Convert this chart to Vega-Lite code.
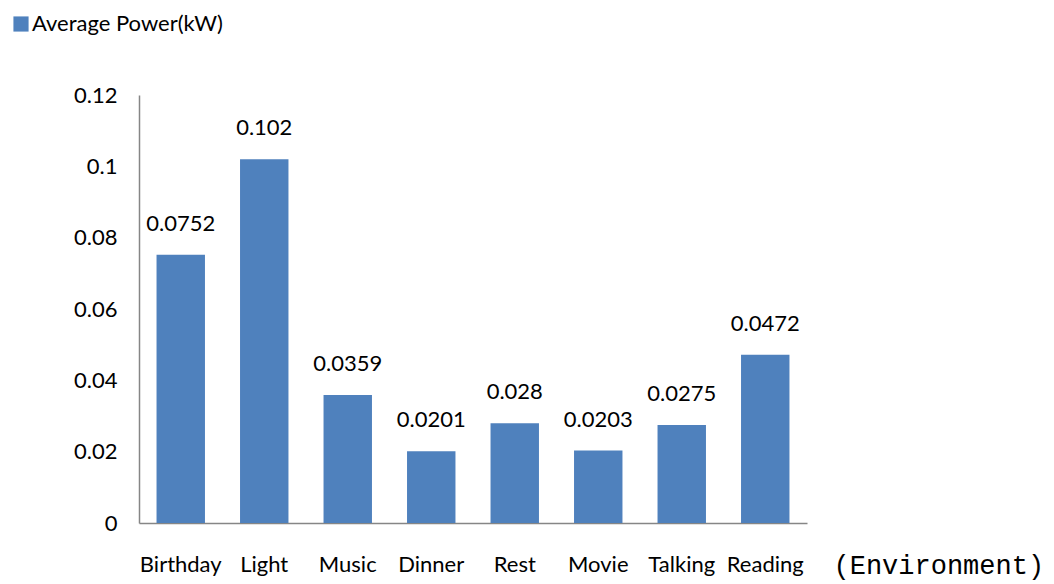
{
  "$schema": "https://vega.github.io/schema/vega-lite/v6.json",
  "autosize": {"type": "none"},
  "padding": {"left": 139, "top": 95, "right": 247, "bottom": 61},
  "width": 668,
  "height": 428,
  "background": "white",
  "config": {"view": {"stroke": null}, "font": "Lato"},
  "data": {"values": [
    {"env": "Birthday", "power": 0.0752, "series": "Average Power(kW)"},
    {"env": "Light", "power": 0.102, "series": "Average Power(kW)"},
    {"env": "Music", "power": 0.0359, "series": "Average Power(kW)"},
    {"env": "Dinner", "power": 0.0201, "series": "Average Power(kW)"},
    {"env": "Rest", "power": 0.028, "series": "Average Power(kW)"},
    {"env": "Movie", "power": 0.0203, "series": "Average Power(kW)"},
    {"env": "Talking", "power": 0.0275, "series": "Average Power(kW)"},
    {"env": "Reading", "power": 0.0472, "series": "Average Power(kW)"}
  ]},
  "encoding": {
    "x": {
      "field": "env", "type": "nominal", "sort": null,
      "scale": {"paddingInner": 0.42, "paddingOuter": 0.21},
      "axis": {
        "title": "(Environment)", "labelAngle": 0, "ticks": false,
        "domainColor": "#868686", "domainWidth": 1.5,
        "labelFontSize": 22, "labelColor": "#000", "labelPadding": 48,
        "labelFont": "Lato", "labelBaseline": "alphabetic",
        "titleFont": "Liberation Mono", "titleFontSize": 27, "titleFontWeight": "normal",
        "titleColor": "#000", "titleX": 694, "titleY": 50, "titleAlign": "left", "titleBaseline": "alphabetic"
      }
    },
    "y": {
      "field": "power", "type": "quantitative",
      "scale": {"domain": [0, 0.12], "nice": false},
      "axis": {
        "title": null, "values": [0, 0.02, 0.04, 0.06, 0.08, 0.1, 0.12], "format": ".2~f",
        "grid": false, "ticks": false, "domainColor": "#868686", "domainWidth": 1.5,
        "labelFontSize": 22, "labelColor": "#000", "labelPadding": 22,
        "labelFont": "Lato"
      }
    }
  },
  "layer": [
    {
      "mark": {"type": "bar", "color": "#4F81BD"},
      "encoding": {
        "color": {
          "field": "series", "type": "nominal",
          "scale": {"range": ["#4F81BD"]},
          "legend": {
            "title": null, "orient": "none", "legendX": -129, "legendY": -82,
            "symbolType": "square", "symbolSize": 230, "symbolStrokeWidth": 0,
            "labelFontSize": 22, "labelColor": "#000", "labelFont": "Lato",
            "labelOffset": 0, "labelLimit": 400
          }
        }
      }
    },
    {
      "mark": {"type": "text", "dy": -31, "fontSize": 22, "color": "#000", "font": "Lato"},
      "encoding": {"text": {"field": "power", "type": "quantitative", "format": ".4~f"}}
    }
  ]
}
